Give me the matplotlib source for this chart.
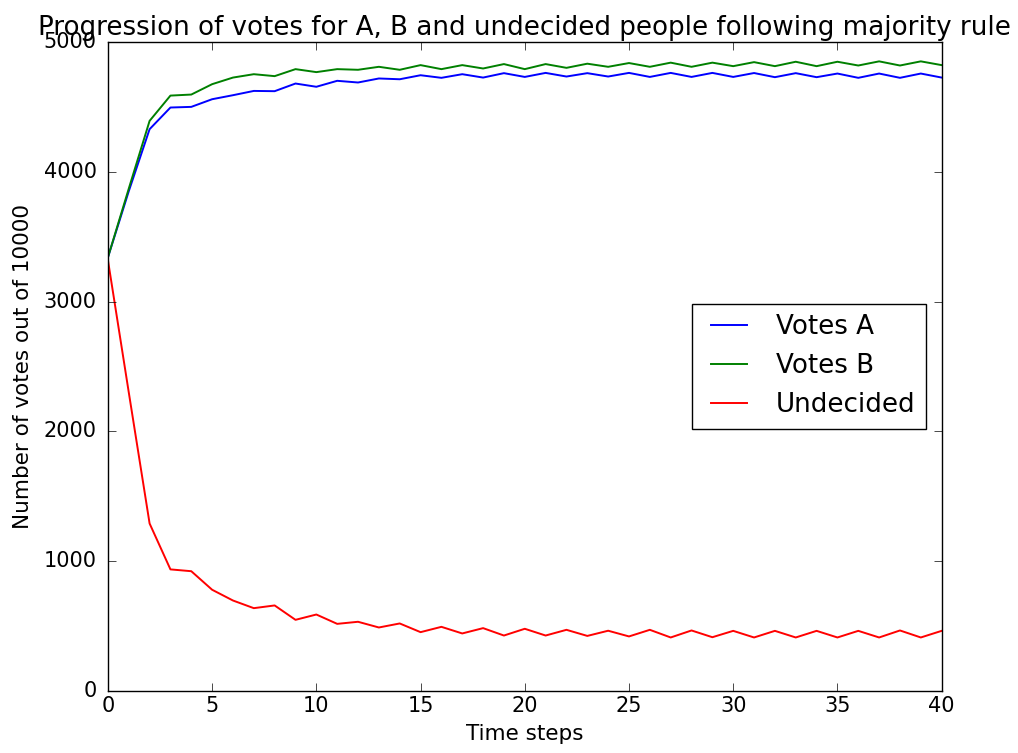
import matplotlib
matplotlib.use("Agg")
import matplotlib.pyplot as plt

plt.style.use("classic")

time_steps = list(range(41))

votes_a = [3340, 3850, 4329, 4496, 4501, 4560, 4591, 4624, 4622, 4681,
           4656, 4702, 4689, 4720, 4714, 4745, 4725, 4753, 4727, 4761,
           4732, 4763, 4735, 4761, 4735, 4763, 4732, 4763, 4732, 4763,
           4732, 4762, 4730, 4761, 4730, 4758, 4725, 4758, 4725, 4758,
           4727]

votes_b = [3340, 3870, 4393, 4588, 4596, 4676, 4727, 4753, 4738, 4792,
           4769, 4792, 4787, 4810, 4787, 4823, 4792, 4823, 4797, 4831,
           4792, 4831, 4802, 4834, 4810, 4839, 4810, 4842, 4810, 4842,
           4815, 4846, 4815, 4849, 4815, 4849, 4820, 4852, 4820, 4852,
           4823]

undecided = [3320, 2300, 1288, 934, 920, 777, 694, 635, 656, 545,
             586, 514, 530, 486, 517, 450, 491, 440, 481, 424,
             476, 424, 468, 421, 461, 417, 468, 409, 463, 411,
             460, 409, 460, 409, 460, 409, 460, 409, 463, 409,
             460]

fig = plt.figure(figsize=(10.18, 7.53), dpi=100, facecolor="white")
ax = fig.add_axes([0.106, 0.083, 0.819, 0.861])

ax.plot(time_steps, votes_a, color="b", linewidth=1.4, label="Votes A")
ax.plot(time_steps, votes_b, color="g", linewidth=1.4, label="Votes B")
ax.plot(time_steps, undecided, color="r", linewidth=1.4, label="Undecided")

ax.set_xlim(0, 40)
ax.set_ylim(0, 5000)
ax.set_xticks(range(0, 41, 5))
ax.set_yticks(range(0, 5001, 1000))
ax.tick_params(labelsize=15, length=6)
ax.tick_params(axis="y", pad=8)

ax.set_title("Progression of votes for A, B and undecided people following majority rule",
             fontsize=18.8, pad=5)
ax.set_xlabel("Time steps", fontsize=15.5, labelpad=6)
ax.set_ylabel("Number of votes out of 10000", fontsize=15.5, labelpad=8)

ax.legend(loc="center right", fontsize=18.8, frameon=True, fancybox=False,
          handlelength=2.0, borderaxespad=0.6)

fig.savefig("out.png", dpi=100, facecolor="white")
